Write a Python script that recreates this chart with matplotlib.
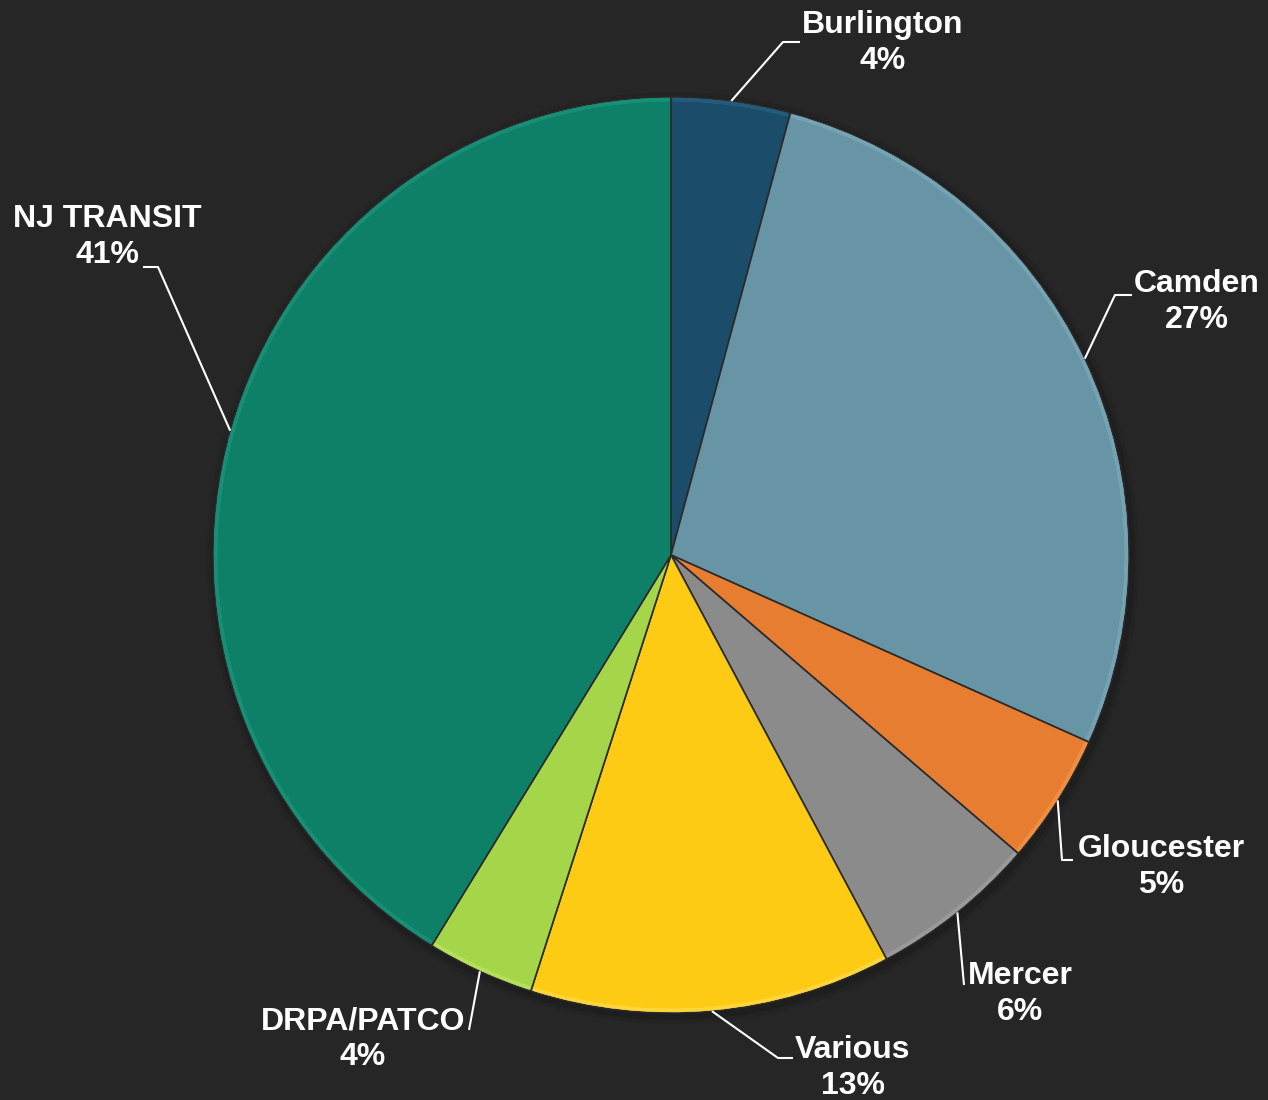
import numpy as np
import matplotlib.pyplot as plt
from matplotlib.patches import Wedge

# data (share of funding by sponsor)
labels = ['Burlington', 'Camden', 'Gloucester', 'Mercer', 'Various',
          'DRPA/PATCO', 'NJ TRANSIT']
values = [4.2, 27.5, 4.6, 5.9, 12.75, 3.8, 41.25]
pct_text = ['4%', '27%', '5%', '6%', '13%', '4%', '41%']
colors = ['#1b4d6a', '#6895a5', '#e77d30', '#8b8b8b', '#fdca14',
          '#a5d549', '#0f8068']
edge_colors = ['#2a6585', '#80aebd', '#f59a50', '#a5a5a5', '#ffdd55',
               '#bfe86a', '#1c9a7f']

# label text centers and elbow points (pixel space, y from top)
text_pos = [(883, 43), (1197, 302), (1161, 867), (1020, 994),
            (853, 1068), (363, 1039), (107, 237)]
elbow_pos = [(783, 42), (1115, 295), (1062, 860), (964, 985),
             (778, 1058), (469, 1030), (158, 267)]
elbow_end = [(800, 42), (1132, 295), (1073, 860), None,
             (793, 1058), None, (143, 267)]

W, H = 1268, 1100
bg = '#262626'
cx, cy, R = 671, H - 555, 458

fig = plt.figure(figsize=(W / 100, H / 100), dpi=100, facecolor=bg)
ax = fig.add_axes([0, 0, 1, 1])
ax.set_facecolor(bg)

# faint shadow under the pie
for k, a in zip([8, 4], [0.08, 0.12]):
    ax.add_patch(plt.Circle((cx + 2, cy - 3), R + k, color='black',
                            alpha=a, lw=0, zorder=0))

wedges, _ = ax.pie(values, colors=colors, startangle=90, counterclock=False,
                   center=(cx, cy), radius=R, frame=True,
                   wedgeprops=dict(linewidth=1.2, edgecolor='#2a2a2a'))
ax.set_xlim(0, W)
ax.set_ylim(0, H)
ax.set_aspect('equal')
ax.axis('off')

# soft bevel highlight just inside the outer rim of each wedge
for w, ec in zip(wedges, edge_colors):
    ax.add_patch(Wedge((cx, cy), R - 2.5, w.theta1 + 0.4, w.theta2 - 0.4,
                       width=0.1, facecolor='none', edgecolor=ec,
                       lw=2.5, alpha=0.6))

# leader lines and labels
for i, w in enumerate(wedges):
    mid = np.deg2rad((w.theta1 + w.theta2) / 2)
    px, py = cx + R * np.cos(mid), cy + R * np.sin(mid)
    ex, ey = elbow_pos[i]
    xs = [px, ex]
    ys = [py, H - ey]
    if elbow_end[i] is not None:
        xs.append(elbow_end[i][0])
        ys.append(H - elbow_end[i][1])
    ax.plot(xs, ys, color='white', lw=1.5, solid_capstyle='butt', zorder=5)
    tx, ty = text_pos[i]
    ax.text(tx, H - ty, labels[i] + '\n' + pct_text[i], color='white',
            ha='center', va='center', fontsize=23, fontweight='bold',
            family='Liberation Sans', linespacing=1.25, zorder=6)

fig.savefig('out.png', dpi=100, facecolor=bg)
